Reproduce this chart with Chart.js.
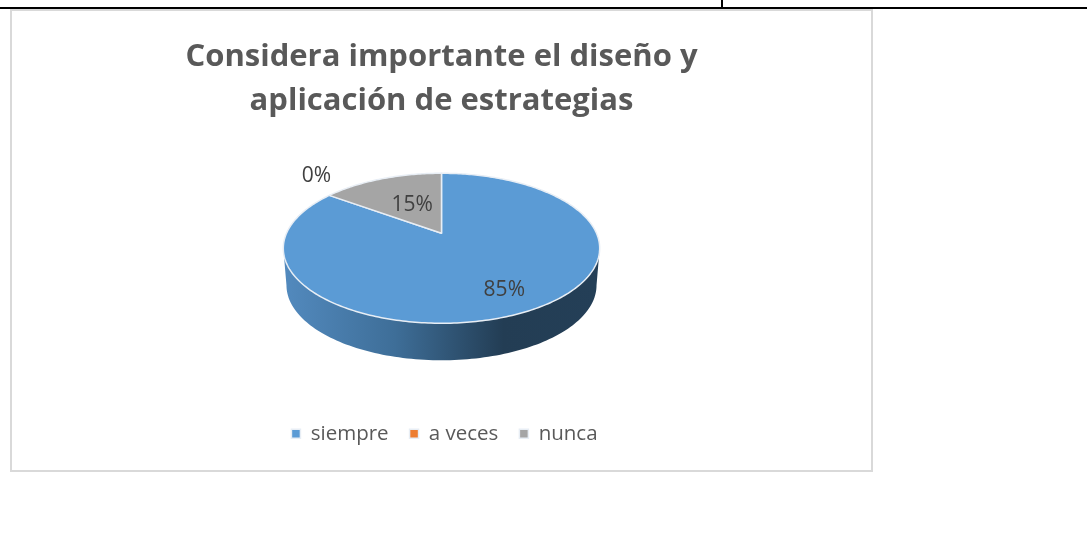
<!DOCTYPE html>
<html>
<head>
<meta charset="utf-8">
<title>Considera importante el diseño y aplicación de estrategias</title>
<script src="https://cdn.jsdelivr.net/npm/chart.js@4"></script>
<style>
    html, body { margin: 0; padding: 0; background: #fff; width: 1087px; height: 542px; overflow: hidden; }
    .rule { position: absolute; background: #000; }
    #ruleH { left: 0; top: 7px; width: 1087px; height: 2px; }
    #ruleV { left: 721px; top: 0; width: 2px; height: 8px; }
    #chartBox { position: absolute; left: 10px; top: 9px; width: 859px; height: 459px; border: 2px solid #d9d9d9; background: #fff; }
    canvas { display: block; }
</style>
</head>
<body>
<div class="rule" id="ruleH"></div>
<div class="rule" id="ruleV"></div>
<div id="chartBox"><canvas id="pieChart" width="859" height="459"></canvas></div>
<script>
const titleLines = ['Considera importante el diseño y', 'aplicación de estrategias'];
const categories = ['siempre', 'a veces', 'nunca'];
const seriesValues = [85, 0, 15];
const sliceColors = ['#5b9bd5', '#ed7d31', '#a5a5a5'];

// where each percent label sits: fraction of the radius along the slice, then a nudge
const labelSpots = [
    { r: 0.77, dx: 0, dy: -1 },
    { r: 1.15, dx: 2, dy: -14 },
    { r: 0.45, dx: 0, dy: -2 }
];

const PIE_RADIUS = 155;
const PERSPECTIVE = 0.2;   // far edge looks smaller than the near one
const SQUASH = 72 / 155;
const CENTER_SHIFT = -29.5;  // legend and title leave the chart area lower than the pie
const DEPTH = 37;

// point on the tilted disc: angle is chart.js angle (0 = 3 o'clock), f = fraction of radius
function project(arc, angle, f) {
    const u = f * Math.cos(angle);
    const v = -f * Math.sin(angle);
    const w = 1 + PERSPECTIVE * v;
    return {
        x: arc.x + arc.outerRadius * u / w,
        y: arc.y + CENTER_SHIFT - arc.outerRadius * SQUASH * v / w
    };
}

// draw the arcs flattened instead of as a circle
Chart.ArcElement.prototype.draw = function (ctx) {
    if (this.circumference <= 0) return;
    const steps = Math.ceil(this.circumference * 60);
    ctx.save();
    ctx.beginPath();
    const apex = project(this, 0, 0);
    ctx.moveTo(apex.x, apex.y);
    for (let i = 0; i <= steps; i++) {
        const a = this.startAngle + (this.endAngle - this.startAngle) * i / steps;
        const p = project(this, a, 1);
        ctx.lineTo(p.x, p.y);
    }
    ctx.closePath();
    ctx.fillStyle = this.options.backgroundColor;
    ctx.fill();
    ctx.lineWidth = this.options.borderWidth;
    ctx.strokeStyle = this.options.borderColor;
    ctx.lineJoin = 'round';
    ctx.stroke();
    ctx.restore();
};

const pieWall = {
    id: 'pieWall',
    beforeDatasetsDraw(chart) {
        const arc = chart.getDatasetMeta(0).data[0];
        const ctx = chart.ctx;
        const edge = Math.acos(-PERSPECTIVE);
        const from = edge - Math.PI / 2;
        const to = Math.PI * 1.5 - edge;
        const steps = 120;
        const top = [];
        for (let i = 0; i <= steps; i++) {
            top.push(project(arc, from + (to - from) * i / steps, 1));
        }
        const grad = ctx.createLinearGradient(arc.x - PIE_RADIUS, 0, arc.x + PIE_RADIUS, 0);
        grad.addColorStop(0, '#5289bd');
        grad.addColorStop(0.35, '#3e6e98');
        grad.addColorStop(0.7, '#233d54');
        grad.addColorStop(1, '#243f57');
        ctx.save();
        ctx.beginPath();
        top.forEach((p, i) => (i ? ctx.lineTo(p.x, p.y) : ctx.moveTo(p.x, p.y)));
        top.slice().reverse().forEach(p => ctx.lineTo(arc.x + (p.x - arc.x) * 0.98, p.y + DEPTH));
        ctx.closePath();
        ctx.fillStyle = grad;
        ctx.fill();
        ctx.restore();
    }
};

const percentLabels = {
    id: 'percentLabels',
    afterDatasetsDraw(chart) {
        const ctx = chart.ctx;
        ctx.save();
        ctx.font = '21px "Open Sans"';
        ctx.fillStyle = '#404040';
        ctx.textAlign = 'center';
        ctx.textBaseline = 'middle';
        chart.getDatasetMeta(0).data.forEach((arc, i) => {
            const spot = labelSpots[i];
            const p = project(arc, (arc.startAngle + arc.endAngle) / 2, spot.r);
            ctx.fillText(seriesValues[i] + '%', p.x + spot.dx, p.y + spot.dy);
        });
        ctx.restore();
    }
};

// legend sits a little right of the pie in the reference
const legendNudge = {
    id: 'legendNudge',
    afterLayout(chart) {
        chart.legend.left += 3;
        chart.legend.right += 3;
    }
};

new Chart(document.getElementById('pieChart').getContext('2d'), {
    type: 'pie',
    data: {
        labels: categories,
        datasets: [{
            data: seriesValues,
            backgroundColor: sliceColors,
            borderColor: '#e8eef5',
            borderWidth: 1.5,
            radius: PIE_RADIUS,
            clip: false
        }]
    },
    options: {
        responsive: false,
        animation: false,
        events: [],
        layout: { padding: { bottom: 16 } },
        plugins: {
            title: {
                display: true,
                text: titleLines,
                color: '#595959',
                font: { family: '"Open Sans"', size: 31, weight: 'bold', lineHeight: 1.42 },
                padding: { top: 24, bottom: 0 }
            },
            legend: {
                position: 'bottom',
                labels: {
                    color: '#595959',
                    font: { family: '"Open Sans"', size: 20.5 },
                    boxWidth: 9,
                    boxHeight: 9,
                    padding: 21
                }
            },
            tooltip: { enabled: false }
        }
    },
    plugins: [pieWall, percentLabels, legendNudge]
});
</script>
</body>
</html>
